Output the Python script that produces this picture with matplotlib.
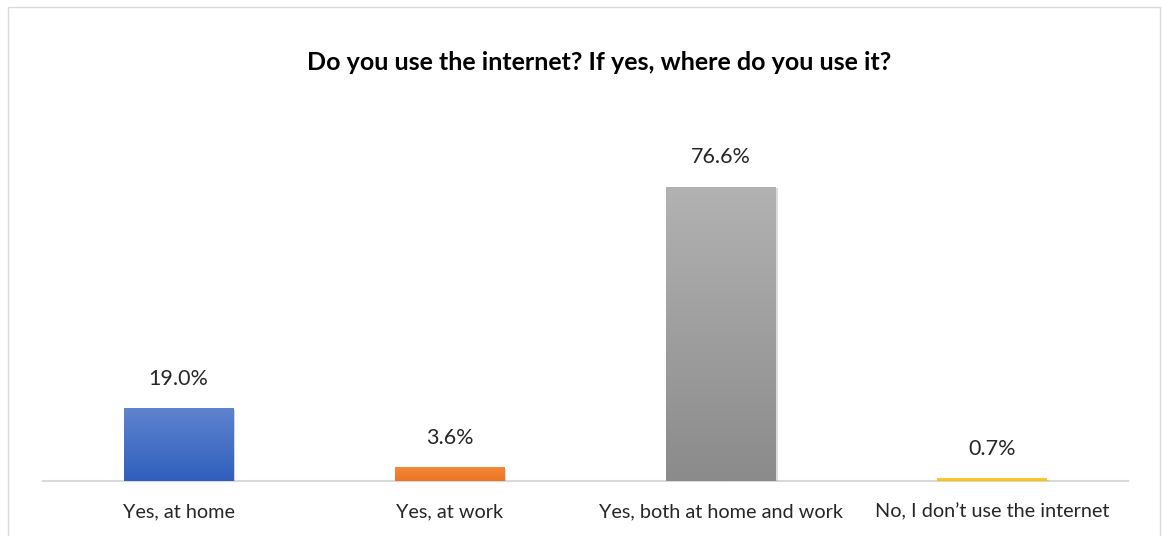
import matplotlib.pyplot as plt
import matplotlib.patheffects as pe
import numpy as np
from matplotlib.colors import LinearSegmentedColormap
from matplotlib.patches import Rectangle

categories = ["Yes, at home", "Yes, at work", "Yes, both at home and work", "No, I don\u2019t use the internet"]
values = [19.0, 3.6, 76.6, 0.7]
labels = ["19.0%", "3.6%", "76.6%", "0.7%"]
# gradient colours top -> bottom
grad = [("#5f84cf", "#2f5fbc"), ("#f4883a", "#ec7523"), ("#b2b2b2", "#8b8b8b"), ("#ffc84a", "#ffbf00")]

plt.rcParams['font.family'] = ['Lato', 'DejaVu Sans']

W, H = 1162, 536
fig = plt.figure(figsize=(W / 100, H / 100), dpi=100)
fig.patches.append(Rectangle((8 / W, -0.01), (1160 - 8) / W, 1 - 7 / H + 0.01, transform=fig.transFigure,
                             fill=False, edgecolor="#d9d9d9", linewidth=1))

ax = fig.add_axes([43 / W, (H - 481) / H, (1128 - 43) / W, (481 - 135) / H])
x = np.arange(len(categories))
bars = ax.bar(x, values, width=0.405, color=[g[1] for g in grad], zorder=2)
ax.set_xlim(-0.5, len(categories) - 0.5)
ax.set_ylim(0, 90)

for b, (top, bot) in zip(bars, grad):
    b.set_path_effects([pe.SimplePatchShadow(offset=(1.2, -1.2), alpha=0.2, rho=0.6), pe.Normal()])
    cmap = LinearSegmentedColormap.from_list("g", [bot, top])
    x0, y0 = b.get_x(), b.get_y()
    img = ax.imshow(np.linspace(0, 1, 100).reshape(-1, 1), cmap=cmap, aspect="auto", origin="lower",
                    extent=(x0, x0 + b.get_width(), y0, y0 + b.get_height()), zorder=3)
    img.set_clip_path(b)

for b, lab in zip(bars, labels):
    ax.annotate(lab, (b.get_x() + b.get_width() / 2, b.get_height()), xytext=(0, 14),
                textcoords="offset points", ha="center", va="bottom", fontsize=15.5, color="#262626")

ax.set_xticks(x)
ax.set_xticklabels(categories, fontsize=14.3, color="#262626")
ax.tick_params(axis="x", length=0, pad=16)
ax.set_yticks([])
for s in ["top", "right", "left"]:
    ax.spines[s].set_visible(False)
ax.spines["bottom"].set_color("#d9d9d9")
ax.spines["bottom"].set_linewidth(1.5)
ax.spines["bottom"].set_zorder(1)

fig.text(599 / W, 1 - 62 / H, "Do you use the internet? If yes, where do you use it?", ha="center", va="center",
         fontsize=18, fontweight="bold", color="black")

fig.savefig("out.png", dpi=100)
